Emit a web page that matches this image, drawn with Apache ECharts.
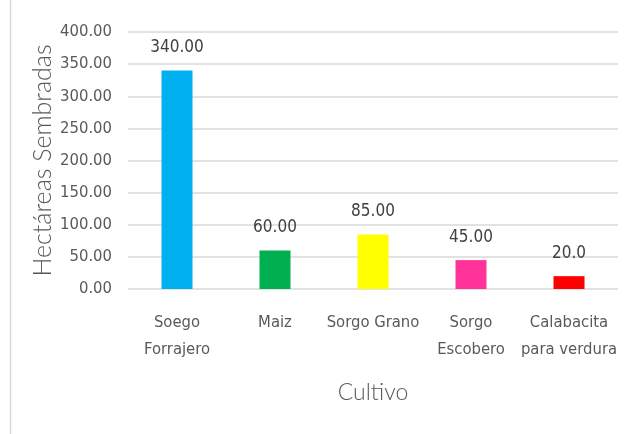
<!DOCTYPE html>
<html><head><meta charset="utf-8">
<script src="https://cdn.jsdelivr.net/npm/echarts@6/dist/echarts.min.js"></script>
<style>html,body{margin:0;padding:0;background:#fff}#c{width:626px;height:434px}</style>
</head><body><div id="c"></div>
<script>
const categories = ['Soego\nForrajero', 'Maiz', 'Sorgo Grano', 'Sorgo\nEscobero', 'Calabacita\npara verdura'];
const values = [340, 60, 85, 45, 20];
const valueLabels = ['340.00', '60.00', '85.00', '45.00', '20.0'];
const colors = ['#00b0f0', '#00b050', '#ffff00', '#ff3399', '#ff0000'];
const yTicks = {min: 0, max: 400, interval: 50};

const font = '"DejaVu Sans Condensed","Liberation Sans",sans-serif';
const chart = echarts.init(document.getElementById('c'), null, {renderer: 'canvas'});
chart.setOption({
  animation: false,
  grid: {left: 128, right: 8, top: 32, bottom: 145},
  graphic: [{type: 'line', shape: {x1: 10.5, y1: 0, x2: 10.5, y2: 434}, style: {stroke: '#d9d9d9', lineWidth: 1.5}}],
  xAxis: {
    type: 'category', data: categories,
    name: 'Cultivo', nameLocation: 'middle', nameGap: 92, nameMoveOverlap: false,
    nameTextStyle: {fontFamily: 'Lato, "Open Sans", sans-serif', fontWeight: 300, fontSize: 23, color: '#595959'},
    axisLine: {show: false}, axisTick: {show: false},
    axisLabel: {fontFamily: font, fontSize: 16.5, color: '#595959', margin: 20, lineHeight: 27, interval: 0}
  },
  yAxis: {
    type: 'value', min: yTicks.min, max: yTicks.max, interval: yTicks.interval,
    name: 'Hectáreas Sembradas', nameLocation: 'middle', nameGap: 73, nameRotate: 90, nameMoveOverlap: false,
    nameTextStyle: {fontFamily: 'Lato, "Open Sans", sans-serif', fontWeight: 300, fontSize: 25, color: '#595959'},
    axisLine: {show: false}, axisTick: {show: false},
    axisLabel: {fontFamily: font, fontSize: 16.5, color: '#595959', margin: 16, formatter: v => v.toFixed(2)},
    splitLine: {lineStyle: {color: '#d9d9d9', width: 1.5}}
  },
  series: [{
    type: 'bar', barWidth: 31,
    data: values.map((v, i) => ({value: v, itemStyle: {color: colors[i]}})),
    label: {show: true, position: 'top', distance: 14, fontFamily: font, fontSize: 17, color: '#404040',
      formatter: p => valueLabels[p.dataIndex]}
  }]
});
</script></body></html>
